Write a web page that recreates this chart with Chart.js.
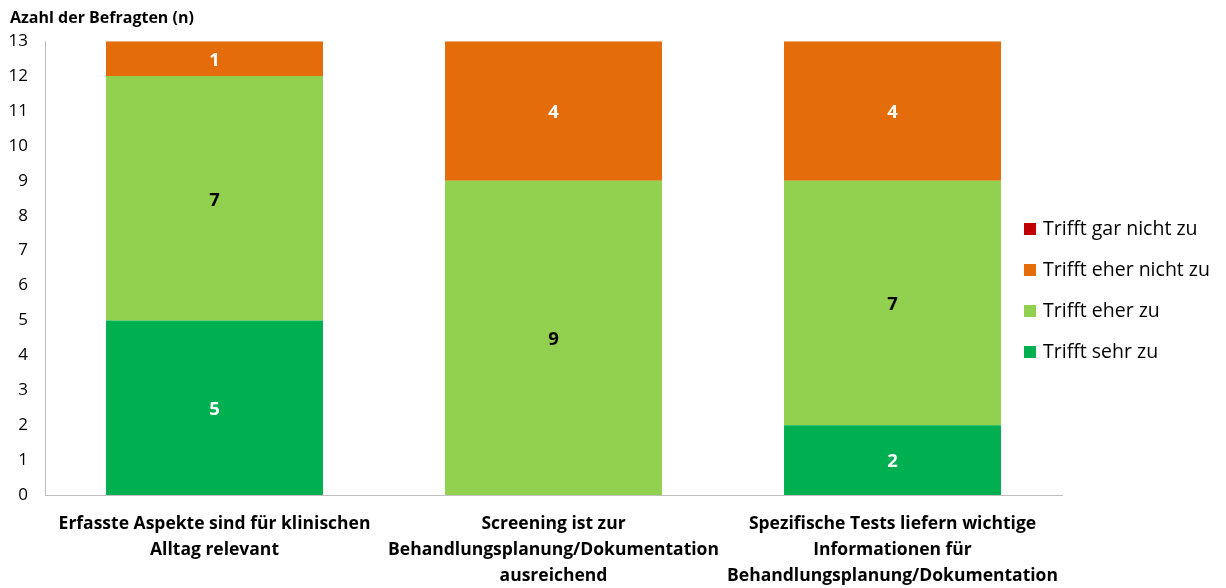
<!DOCTYPE html>
<html><head><meta charset="utf-8">
<script src="https://cdn.jsdelivr.net/npm/chart.js@4/dist/chart.umd.min.js"></script>
<style>html,body{margin:0;padding:0;background:#fff}#wrap{width:1226px;height:588px;position:relative}</style>
</head><body><div id="wrap"><canvas id="c" width="1226" height="588"></canvas></div>
<script>
const categories = [
  ["Erfasste Aspekte sind für klinischen", "Alltag relevant"],
  ["Screening ist zur", "Behandlungsplanung/Dokumentation", "ausreichend"],
  ["Spezifische Tests liefern wichtige", "Informationen für", "Behandlungsplanung/Dokumentation"]
];
const seriesNames = ["Trifft sehr zu", "Trifft eher zu", "Trifft eher nicht zu", "Trifft gar nicht zu"];
const sehrZu = [5, 0, 2];
const eherZu = [7, 9, 7];
const eherNichtZu = [1, 4, 4];
const garNichtZu = [0, 0, 0];
const yTicks = [0,1,2,3,4,5,6,7,8,9,10,11,12,13];
const colors = ["#00B050", "#92D050", "#E46C0A", "#C00000"];
const labelColors = ["#ffffff", "#000000", "#ffffff", "#ffffff"];
const FONT = "'Open Sans', sans-serif";

const valueLabels = {
  id: 'valueLabels',
  afterDatasetsDraw(chart) {
    const ctx = chart.ctx;
    ctx.save();
    ctx.font = "bold 18.5px " + FONT;
    ctx.textAlign = 'center';
    ctx.textBaseline = 'middle';
    chart.data.datasets.forEach((ds, i) => {
      const meta = chart.getDatasetMeta(i);
      meta.data.forEach((bar, j) => {
        const v = ds.data[j];
        if (!v) return;
        ctx.fillStyle = labelColors[i];
        ctx.fillText(String(v), bar.x, (bar.y + bar.base) / 2 + 2);
      });
    });
    ctx.restore();
  }
};
const sideLegend = {
  id: 'sideLegend',
  afterDraw(chart) {
    const ctx = chart.ctx;
    ctx.save();
    ctx.font = "19.5px " + FONT;
    ctx.textBaseline = 'middle';
    ctx.textAlign = 'left';
    const x = 1024, y0 = 229, dy = 41;
    for (let k = 0; k < 4; k++) {
      const i = 3 - k;
      const y = y0 + k * dy;
      ctx.fillStyle = colors[i];
      ctx.fillRect(x, y - 6, 12, 12);
      ctx.fillStyle = '#000';
      ctx.fillText(seriesNames[i], x + 19, y);
    }
    ctx.restore();
  }
};

const data = {
  labels: categories,
  datasets: [sehrZu, eherZu, eherNichtZu, garNichtZu].map((d, i) => ({
    label: seriesNames[i], data: d, backgroundColor: colors[i], borderWidth: 0,
    categoryPercentage: 1, barPercentage: 0.64
  }))
};

new Chart(document.getElementById('c'), {
  type: 'bar',
  data,
  plugins: [valueLabels, sideLegend],
  options: {
    responsive: false,
    animation: false,
    layout: { padding: { left: 10, right: 164, top: 0, bottom: 0 } },
    plugins: {
      legend: { display: false },
      tooltip: { enabled: false },
      title: {
        display: true, text: "Azahl der Befragten (n)", align: 'start',
        color: '#000', font: { family: FONT, size: 16, weight: 'bold' },
        padding: { top: 9, bottom: 13 }
      }
    },
    scales: {
      x: {
        stacked: true,
        afterFit(scale) { scale.height = 93; },
        grid: { display: false, drawTicks: false },
        border: { display: true, color: '#BFBFBF', width: 1 },
        ticks: { color: '#000', font: { family: FONT, size: 17.5, weight: 'bold', lineHeight: 1.49 }, maxRotation: 0, padding: 16 }
      },
      y: {
        stacked: true, min: 0, max: 13,
        afterBuildTicks(scale) { scale.ticks = yTicks.map(v => ({ value: v })); },
        afterFit(scale) { scale.width = 35; },
        grid: { display: false, drawTicks: false },
        border: { display: true, color: '#BFBFBF', width: 1 },
        ticks: { color: '#000', font: { family: FONT, size: 17 }, padding: 17 }
      }
    }
  }
});
</script></body></html>
